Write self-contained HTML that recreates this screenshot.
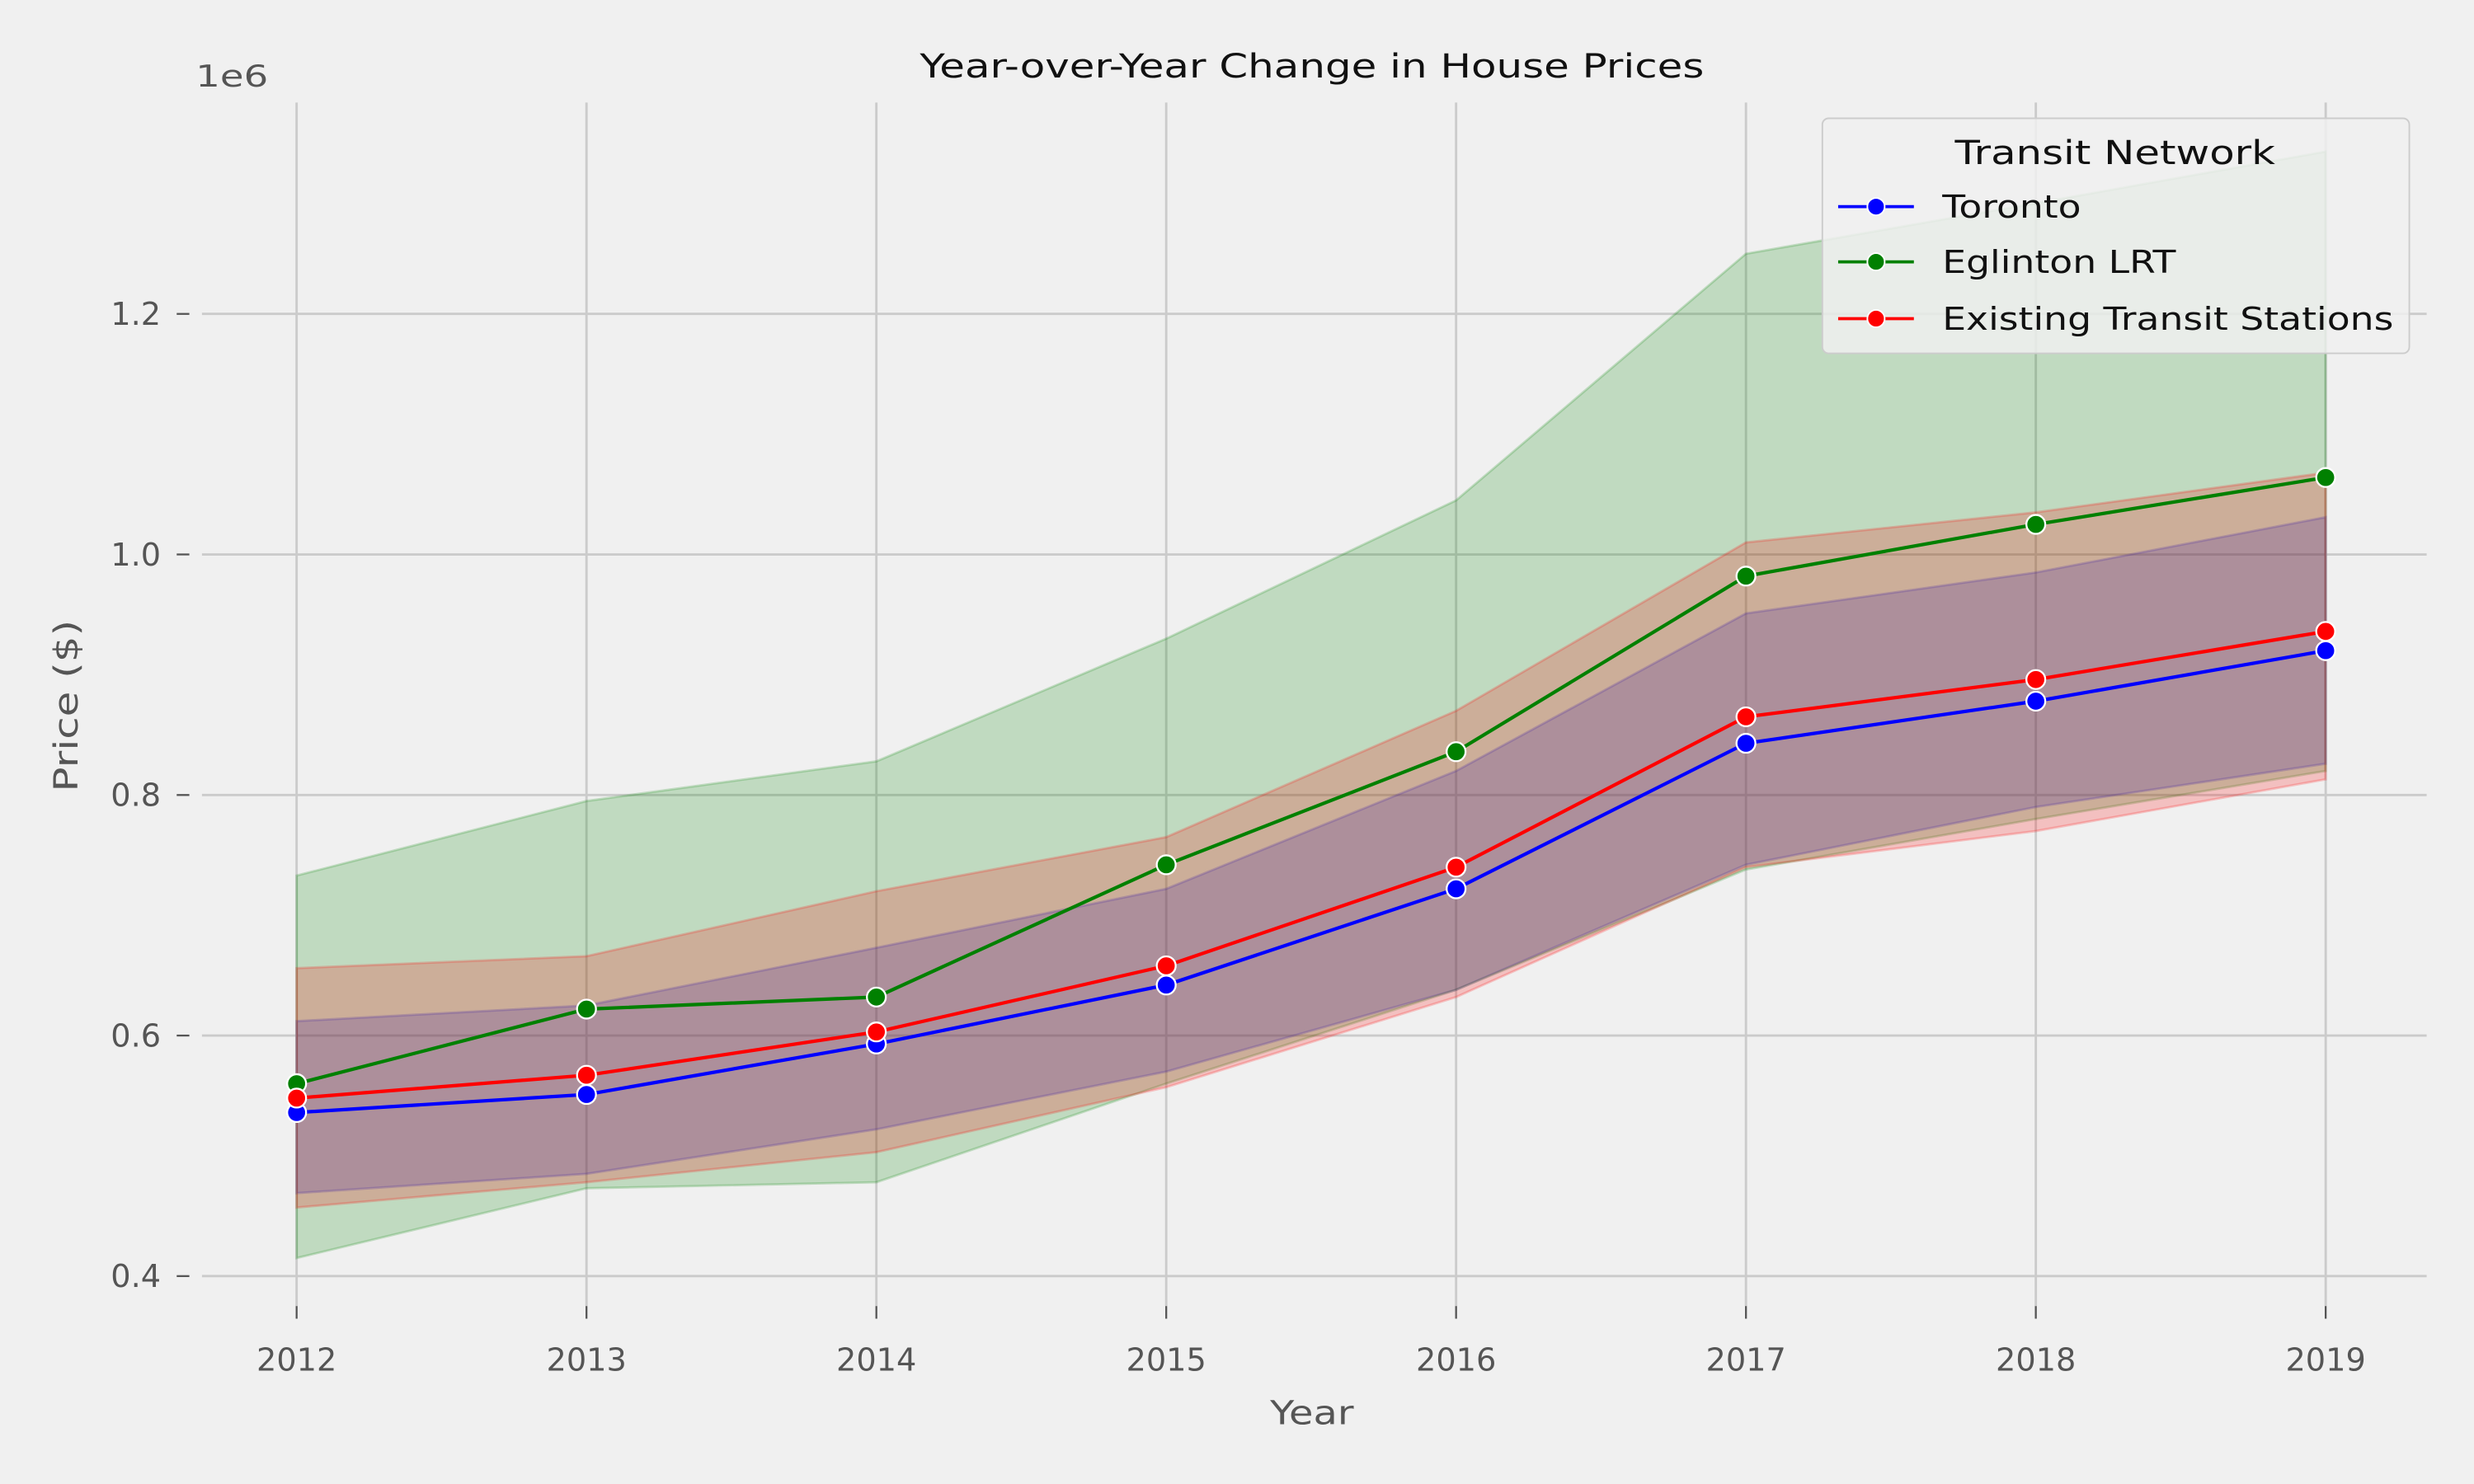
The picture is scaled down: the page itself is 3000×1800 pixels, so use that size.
<!DOCTYPE html>
<html><head><meta charset="utf-8"><style>
html,body{margin:0;padding:0;background:#f0f0f0;}
svg{display:block;font-family:"DejaVu Sans","Liberation Sans",sans-serif;}
</style></head><body>
<svg id="chart" width="3000" height="1800" viewBox="0 0 1568 940.8" xmlns="http://www.w3.org/2000/svg">
<rect x="0" y="0" width="1568" height="941" fill="#f0f0f0"/>
<g id="grid"></g>
<g id="bands"></g>
<g id="lines"></g>
<g id="axes"></g>
<text x="583" y="49" textLength="497" lengthAdjust="spacingAndGlyphs" font-size="21" fill="#111">Year-over-Year Change in House Prices</text>
<text x="124" y="55" textLength="46" lengthAdjust="spacingAndGlyphs" font-size="19" fill="#555">1e6</text>
<text x="805" y="903" textLength="53" lengthAdjust="spacingAndGlyphs" font-size="21" fill="#555">Year</text>
<text transform="translate(49,502) rotate(-90)" textLength="109" lengthAdjust="spacingAndGlyphs" font-size="21" fill="#555">Price ($)</text>
<g>
<rect x="1155" y="75" width="372" height="149" rx="4" fill="#f0f0f0" stroke="#cccccc" stroke-width="1" fill-opacity="0.85"/>
<text x="1239" y="104" textLength="203" lengthAdjust="spacingAndGlyphs" font-size="21" fill="#111">Transit Network</text>
<g><line x1="1165" y1="131" x2="1213" y2="131" stroke="#0000ff" stroke-width="2"/><circle cx="1189" cy="131" r="5.5" fill="#0000ff" stroke="#fff" stroke-width="1"/><text x="1231" y="138" textLength="88" lengthAdjust="spacingAndGlyphs" font-size="20" fill="#111">Toronto</text></g>
<g><line x1="1165" y1="166" x2="1213" y2="166" stroke="#008000" stroke-width="2"/><circle cx="1189" cy="166" r="5.5" fill="#008000" stroke="#fff" stroke-width="1"/><text x="1231" y="173" textLength="148" lengthAdjust="spacingAndGlyphs" font-size="20" fill="#111">Eglinton LRT</text></g>
<g><line x1="1165" y1="202" x2="1213" y2="202" stroke="#ff0000" stroke-width="2"/><circle cx="1189" cy="202" r="5.5" fill="#ff0000" stroke="#fff" stroke-width="1"/><text x="1231" y="209" textLength="286" lengthAdjust="spacingAndGlyphs" font-size="20" fill="#111">Existing Transit Stations</text></g>
</g>
</svg>
<script>
const years = [2012,2013,2014,2015,2016,2017,2018,2019];
const toronto = [0.536,0.551,0.593,0.642,0.722,0.843,0.878,0.920];
const torontoLow = [0.469,0.485,0.522,0.570,0.638,0.742,0.790,0.826];
const torontoHigh = [0.612,0.625,0.673,0.722,0.820,0.951,0.985,1.031];
const eglinton = [0.560,0.622,0.632,0.742,0.836,0.982,1.025,1.064];
const eglintonLow = [0.415,0.473,0.478,0.560,0.638,0.738,0.780,0.820];
const eglintonHigh = [0.733,0.795,0.828,0.930,1.045,1.250,1.292,1.335];
const existing = [0.548,0.567,0.603,0.658,0.740,0.865,0.896,0.936];
const existingLow = [0.457,0.478,0.503,0.557,0.632,0.740,0.770,0.813];
const existingHigh = [0.656,0.666,0.720,0.765,0.870,1.010,1.035,1.068];
const yTicks = [0.4,0.6,0.8,1.0,1.2];
const yTickLabels = ["0.4","0.6","0.8","1.0","1.2"];

const NS="http://www.w3.org/2000/svg";
function X(yr){return 188+(yr-2012)*(1474-188)/7;}
function Y(v){return 809-(v-0.4)*(809-199)/0.8;}
function mk(tag,attrs,parent){const e=document.createElementNS(NS,tag);for(const k in attrs)e.setAttribute(k,attrs[k]);parent.appendChild(e);return e;}
const grid=document.getElementById('grid'),bands=document.getElementById('bands'),lines=document.getElementById('lines'),axes=document.getElementById('axes');
years.forEach((yr,i)=>{
  const g=mk('line',{x1:X(yr),x2:X(yr),y1:65,y2:828,stroke:'#cbcbcb','stroke-width':1.5},grid);
  
  
  const t=mk('line',{x1:X(yr),x2:X(yr),y1:828,y2:836,stroke:'#555','stroke-width':1.2},axes);
  
  
  const l=mk('text',{x:X(yr),y:869,'text-anchor':'middle','font-size':20,fill:'#555'},axes);
  l.textContent=yr;
  
  
});
yTicks.forEach((v,i)=>{
  const g=mk('line',{x1:128,x2:1538,y1:Y(v),y2:Y(v),stroke:'#cbcbcb','stroke-width':1.5},grid);
  
  
  const t=mk('line',{x1:112,x2:120,y1:Y(v),y2:Y(v),stroke:'#555','stroke-width':1.2},axes);
  
  
  const l=mk('text',{x:102,y:Y(v)+7,'text-anchor':'end','font-size':20,fill:'#555'},axes);
  l.textContent=yTickLabels[i];
  
  
});
function band(lo,hi,color,name){
  let d='M'+years.map((yr,i)=>X(yr)+','+Y(hi[i])).join(' L');
  d+=' L'+years.slice().reverse().map((yr,j)=>{const i=years.length-1-j;return X(yr)+','+Y(lo[i]);}).join(' L')+' Z';
  const p=mk('path',{d:d,fill:color,'fill-opacity':0.2,stroke:color,'stroke-opacity':0.2,'stroke-width':1.5},bands);
  
  
}
band(torontoLow,torontoHigh,'#0000ff','band-toronto');
band(eglintonLow,eglintonHigh,'#008000','band-eglinton');
band(existingLow,existingHigh,'#ff0000','band-existing');
function series(vals,color,name){
  const p=mk('polyline',{points:years.map((yr,i)=>X(yr)+','+Y(vals[i])).join(' '),fill:'none',stroke:color,'stroke-width':2.2},lines);
  
  
  years.forEach((yr,i)=>{
    const c=mk('circle',{cx:X(yr),cy:Y(vals[i]),r:6,fill:color,stroke:'#fff','stroke-width':1.2},lines);
    
    
  });
}
series(toronto,'#0000ff','toronto');
series(eglinton,'#008000','eglinton');
series(existing,'#ff0000','existing');
</script>
</body></html>
